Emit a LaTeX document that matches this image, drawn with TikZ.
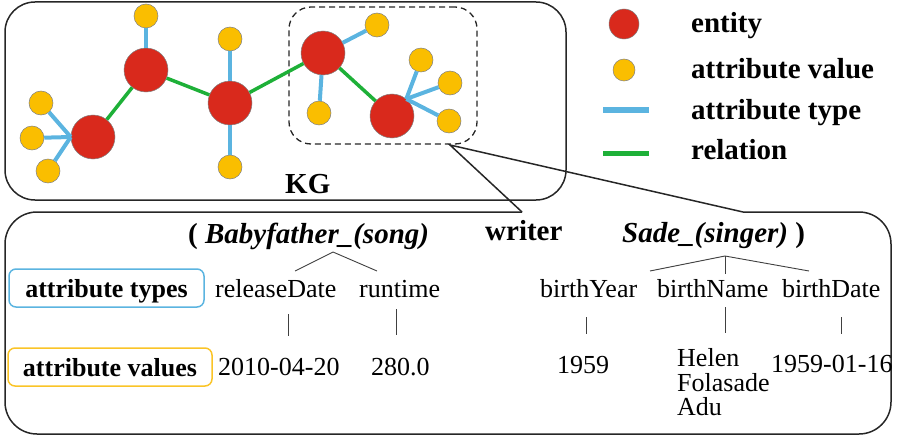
\documentclass[tikz,border=0pt]{standalone}
\usepackage{fontspec}
\setmainfont{Liberation Serif}
\definecolor{entred}{RGB}{217,41,28}
\definecolor{attryel}{RGB}{250,190,0}
\definecolor{atblue}{RGB}{91,180,224}
\definecolor{relgreen}{RGB}{30,176,56}
\definecolor{boxyel}{RGB}{250,196,40}
\begin{document}
\begin{tikzpicture}[x=1pt,y=-1pt,
  entity/.style={circle,fill=entred,draw=black!50,line width=0.5pt,minimum size=44pt,inner sep=0pt},
  attrval/.style={circle,fill=attryel,draw=black!50,line width=0.5pt,minimum size=24pt,inner sep=0pt},
  atype/.style={draw=atblue,line width=4pt},
  rel/.style={draw=relgreen,line width=3.5pt},
  frame/.style={draw=black!85,line width=1.5pt},
  bigbold/.style={font=\fontsize{29}{34}\selectfont\bfseries,anchor=base west,inner sep=0pt},
  plain/.style={font=\fontsize{26}{30}\selectfont,anchor=base west,inner sep=0pt},
  keybox/.style={rounded corners=7pt,line width=1.5pt,minimum height=38pt,inner sep=0pt,
    text height=20pt,text depth=2pt,font=\fontsize{26}{30}\selectfont\bfseries},
  tree/.style={draw=black!75,line width=0.9pt}]
\useasboundingbox (0,0) rectangle (900,436);

% ---- knowledge graph panel ----
\draw[frame,rounded corners=30pt] (5,2) rectangle (566,200);
\node[draw=black!85,line width=1.3pt,dash pattern=on 6pt off 4pt,rounded corners=22pt,
  minimum width=188pt,minimum height=137pt,inner sep=0pt] (zoomed) at (383,75.5) {};
\node[bigbold] (kg) at (285,193) {KG};

% entities
\node[entity] (e1) at (93,137) {};
\node[entity] (e2) at (146,70) {};
\node[entity] (e3) at (230,103) {};
\node[entity] (e4) at (323,53) {};
\node[entity] (e5) at (392,116) {};
% attribute values
\node[attrval] (v1) at (41,103) {};
\node[attrval] (v2) at (32,138) {};
\node[attrval] (v3) at (48,171) {};
\node[attrval] (v4) at (146,16) {};
\node[attrval] (v5) at (230,39) {};
\node[attrval] (v6) at (230,167) {};
\node[attrval] (v7) at (377,25) {};
\node[attrval] (v8) at (319,113) {};
\node[attrval] (v9) at (421,60) {};
\node[attrval] (v10) at (450,83) {};
\node[attrval] (v11) at (449,121) {};

% attribute types
\draw[atype] (v1) -- (e1.west);
\draw[atype] (v2) -- (e1.west);
\draw[atype] (v3) -- (e1.west);
\draw[atype] (v4) -- (e2);
\draw[atype] (v5) -- (e3);
\draw[atype] (v6) -- (e3);
\draw[atype] (v7) -- (e4);
\draw[atype] (v8) -- (e4);
\draw[atype] (v9) -- (e5.50);
\draw[atype] (v10) -- (e5.50);
\draw[atype] (v11) -- (e5.50);
% relations
\draw[rel] (e1) -- (e2);
\draw[rel] (e2) -- (e3);
\draw[rel] (e3) -- (e4);
\draw[rel] (e4) -- (e5);

% ---- legend ----
\node[entity,minimum size=30pt] (lgent) at (624,24) {};
\node[attrval,minimum size=22pt] (lgval) at (624,70) {};
\coordinate (lgta) at (603,110);
\coordinate (lgtb) at (649,110);
\coordinate (lgra) at (603,153);
\coordinate (lgrb) at (649,153);
\draw[atype,line width=5.5pt] (lgta) -- (lgtb);
\draw[rel,line width=5pt] (lgra) -- (lgrb);
\node[bigbold] (tent) at (691,33) {entity};
\node[bigbold] (tval) at (691,78) {attribute value};
\node[bigbold] (ttyp) at (691,119) {attribute type};
\node[bigbold] (trel) at (691,159) {relation};

% ---- triple callout ----
\coordinate (tip) at (450,145);
\coordinate (cl) at (522,212);
\coordinate (cr) at (743,212);
\draw[frame,rounded corners=32pt] (cl) -- (5,212) -- (5,434) -- (891,434) -- (891,212) -- (cr);
\draw[frame,line join=miter] (cl) -- (tip) -- (cr);

\node[bigbold] (head) at (188,243) {( \textit{Babyfather\_(song)}};
\node[bigbold] (relw) at (485,240) {writer};
\node[bigbold] (tail) at (622,242) {\textit{Sade\_(singer)} )};

\node[keybox,draw=atblue,minimum width=195pt] (ktypes) at (106.5,288) {attribute types};
\node[keybox,draw=boxyel,minimum width=204pt] (kvals) at (110,367) {attribute values};

% attribute types of the head entity
\node[plain] (rd) at (215,297) {releaseDate};
\node[plain] (rt) at (359,297) {runtime};
\node[plain] (rdv) at (218,375) {2010-04-20};
\node[plain] (rtv) at (371,375) {280.0};
\coordinate (ha) at (333,252);
\coordinate (hl) at (295,271);
\coordinate (hr) at (377,271);
\draw[tree] (hl) -- (ha) -- (hr);
\coordinate (rda) at (288,314);
\coordinate (rdb) at (288,336);
\coordinate (rta) at (396,309);
\coordinate (rtb) at (396,335);
\draw[tree] (rda) -- (rdb);
\draw[tree] (rta) -- (rtb);

% attribute types of the tail entity
\node[plain] (by) at (540,297) {birthYear};
\node[plain] (bn) at (657,297) {birthName};
\node[plain] (bd) at (782,297) {birthDate};
\node[plain] (byv) at (557,373) {1959};
\node[plain,align=left,anchor=north west,font=\fontsize{26}{24.5}\selectfont] (bnv) at (677,348.5) {Helen\\Folasade\\Adu};
\node[plain] (bdv) at (771,372) {1959-01-16};
\coordinate (ta) at (725,256);
\coordinate (tl) at (650,271);
\coordinate (tm) at (725,274);
\coordinate (tr) at (809,271);
\draw[tree] (tl) -- (ta) -- (tr);
\draw[tree] (ta) -- (tm);
\coordinate (bya) at (586,317);
\coordinate (byb) at (586,334);
\coordinate (bna) at (725,307);
\coordinate (bnb) at (725,333);
\coordinate (bda) at (841,317);
\coordinate (bdb) at (841,334);
\draw[tree] (bya) -- (byb);
\draw[tree] (bna) -- (bnb);
\draw[tree] (bda) -- (bdb);
\end{tikzpicture}
\end{document}
